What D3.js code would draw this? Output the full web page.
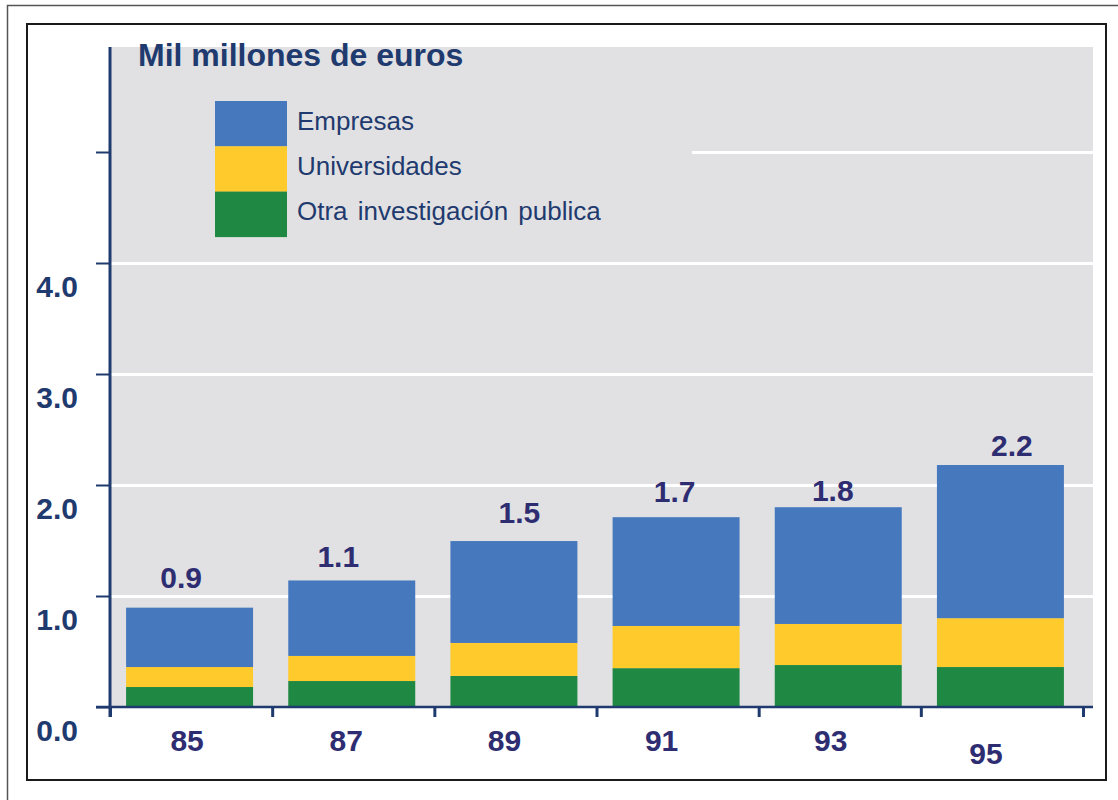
<html>
<head>
    <meta charset="utf-8">
    <title>Mil millones de euros</title>
    <script src="https://d3js.org/d3.v7.min.js"></script>
    <style>
        body { margin: 0; background: #fff; }
        text { font-family: Arial, 'Liberation Sans', sans-serif; }
    </style>
</head>
<body>
    <div id="cont"></div>
    <script>
        // chart data
        var years = ['85', '87', '89', '91', '93', '95'];
        var seriesNames = ['Empresas', 'Universidades', 'Otra investigación publica'];
        var otra = [0.18, 0.234, 0.28, 0.35, 0.378, 0.36];
        var universidades = [0.18, 0.226, 0.297, 0.38, 0.37, 0.44];
        var empresas = [0.535, 0.68, 0.918, 0.98, 1.052, 1.38];
        var totalLabels = ['0.9', '1.1', '1.5', '1.7', '1.8', '2.2'];
        var yTicks = [0, 1, 2, 3, 4, 5];
        var yTickLabels = ['0.0', '1.0', '2.0', '3.0', '4.0', ''];

        (function() {
            var W = 1118,
                H = 800,
                plot = { left: 110, right: 1093, top: 47, bottom: 707 },
                navy = '#1f3a6e',
                purple = '#2e2d72',
                colors = { 'Empresas': '#4678be', 'Universidades': '#ffca2b', 'Otra investigación publica': '#1f8842' },
                // small hand nudges so labels sit where the original put them
                valueNudgeX = [-8.5, -13.5, 5.5, -1.5, -5.5, 11.5],
                valueNudgeY = [-20, -13, -18, -15, -6, -9],
                yearNudgeX = [-2.5, -5.5, -9.5, -14.5, -7.5, -14.5],
                yearNudgeY = [0, 0, 0, 0, 0, 13],
                svg, x, xEdge, y, rows, stack, series, legend;

            rows = years.map(function(yr, i) {
                return {
                    year: yr,
                    'Otra investigación publica': otra[i],
                    'Universidades': universidades[i],
                    'Empresas': empresas[i]
                };
            });

            //Define scales
            x = d3.scaleBand()
                .domain(years)
                .range([plot.left - 1.5, 1083 - 1.5])
                .paddingInner(0.217)
                .paddingOuter(0.1085);

            xEdge = d3.scaleLinear()
                .domain([0, years.length])
                .range([plot.left, 1083]);

            y = d3.scaleLinear()
                .domain([0, 5])
                .range([plot.bottom, 152]);

            svg = d3.select('#cont').append('svg')
                .attr('width', W)
                .attr('height', H);

            //Frames
            svg.append('rect')
                .attr('x', 7.5).attr('y', 5.5)
                .attr('width', 1300).attr('height', 1000)
                .attr('fill', 'none')
                .attr('stroke', '#555')
                .attr('stroke-width', 1.5);

            svg.append('rect')
                .attr('x', 27).attr('y', 24)
                .attr('width', 1106 - 27).attr('height', 780 - 24)
                .attr('fill', '#fff')
                .attr('stroke', '#1a1a1a')
                .attr('stroke-width', 2);

            //Plot background
            svg.append('rect')
                .attr('x', plot.left).attr('y', plot.top)
                .attr('width', plot.right - plot.left)
                .attr('height', plot.bottom - plot.top)
                .attr('fill', '#e1e1e3');

            //Grid
            svg.append('g')
                .attr('class', 'grid')
                .attr('transform', 'translate(' + plot.left + ',0)')
                .call(d3.axisRight(y).tickValues(yTicks.slice(1)).tickSize(plot.right - plot.left).tickFormat(''))
                .call(function(g) { g.select('.domain').remove(); })
                .selectAll('line')
                .attr('stroke', '#fff')
                .attr('stroke-width', 3);

            //Legend background hides part of the top grid line
            legend = svg.append('g').attr('class', 'legend');
            legend.append('rect')
                .attr('x', plot.left).attr('y', plot.top)
                .attr('width', 692 - plot.left).attr('height', 240 - plot.top)
                .attr('fill', '#e1e1e3');

            //Stacked bars
            stack = d3.stack().keys(['Otra investigación publica', 'Universidades', 'Empresas']);
            series = stack(rows);

            svg.append('g')
                .selectAll('g')
                .data(series)
                .enter()
                .append('g')
                .attr('fill', function(d) { return colors[d.key]; })
                .selectAll('rect')
                .data(function(d) { return d; })
                .enter()
                .append('rect')
                .attr('x', function(d) { return x(d.data.year); })
                .attr('width', x.bandwidth())
                .attr('y', function(d) { return y(d[1]); })
                .attr('height', function(d) { return y(d[0]) - y(d[1]); });

            //Total labels
            svg.append('g')
                .selectAll('text')
                .data(rows)
                .enter()
                .append('text')
                .attr('x', function(d, i) { return x(d.year) + x.bandwidth() / 2 + valueNudgeX[i]; })
                .attr('y', function(d, i) { return y(otra[i] + universidades[i] + empresas[i]) + valueNudgeY[i]; })
                .attr('text-anchor', 'middle')
                .attr('font-size', 30)
                .attr('font-weight', 'bold')
                .attr('fill', purple)
                .text(function(d, i) { return totalLabels[i]; });

            //Y axis
            var yAxisG = svg.append('g')
                .attr('class', 'axis yaxis')
                .attr('transform', 'translate(' + plot.left + ',0)')
                .call(d3.axisLeft(y).tickValues(yTicks).tickSize(14).tickFormat(''));
            yAxisG.select('.domain').remove();
            yAxisG.selectAll('line').attr('stroke', navy).attr('stroke-width', 2);
            yAxisG.append('line')
                .attr('x1', 0).attr('x2', 0)
                .attr('y1', plot.top).attr('y2', plot.bottom + 10)
                .attr('stroke', navy)
                .attr('stroke-width', 3);

            svg.append('g')
                .selectAll('text')
                .data(yTicks)
                .enter()
                .append('text')
                .attr('x', 78)
                .attr('y', function(d) { return y(d) + 34; })
                .attr('text-anchor', 'end')
                .attr('font-size', 30)
                .attr('font-weight', 'bold')
                .attr('fill', navy)
                .text(function(d, i) { return yTickLabels[i]; });

            //X axis
            var xAxisG = svg.append('g')
                .attr('class', 'axis xaxis')
                .attr('transform', 'translate(0,' + plot.bottom + ')')
                .call(d3.axisBottom(xEdge).tickValues(d3.range(years.length + 1)).tickSize(10).tickFormat(''));
            xAxisG.select('.domain').remove();
            xAxisG.selectAll('line').attr('stroke', navy).attr('stroke-width', 3);
            xAxisG.append('line')
                .attr('x1', 96).attr('x2', plot.right)
                .attr('y1', 0).attr('y2', 0)
                .attr('stroke', navy)
                .attr('stroke-width', 2.5);

            svg.append('g')
                .selectAll('text')
                .data(years)
                .enter()
                .append('text')
                .attr('x', function(d, i) { return x(d) + x.bandwidth() / 2 + yearNudgeX[i]; })
                .attr('y', function(d, i) { return 751 + yearNudgeY[i]; })
                .attr('text-anchor', 'middle')
                .attr('font-size', 30)
                .attr('font-weight', 'bold')
                .attr('fill', purple)
                .text(function(d) { return d; });

            //Title
            svg.append('text')
                .attr('x', 138)
                .attr('y', 66)
                .attr('font-size', 32)
                .attr('font-weight', 'bold')
                .attr('fill', navy)
                .text('Mil millones de euros');

            //Legend
            var item = legend.selectAll('g.item')
                .data(seriesNames)
                .enter()
                .append('g')
                .attr('class', 'item')
                .attr('transform', function(d, i) { return 'translate(215,' + (101 + i * 45.3) + ')'; });

            item.append('rect')
                .attr('width', 72)
                .attr('height', 45.5)
                .attr('fill', function(d) { return colors[d]; });

            item.append('text')
                .attr('x', 82)
                .attr('y', 28.5)
                .attr('font-size', 26)
                .attr('word-spacing', 3)
                .attr('fill', navy)
                .text(function(d) { return d; });
        })();
    </script>
</body>
</html>
